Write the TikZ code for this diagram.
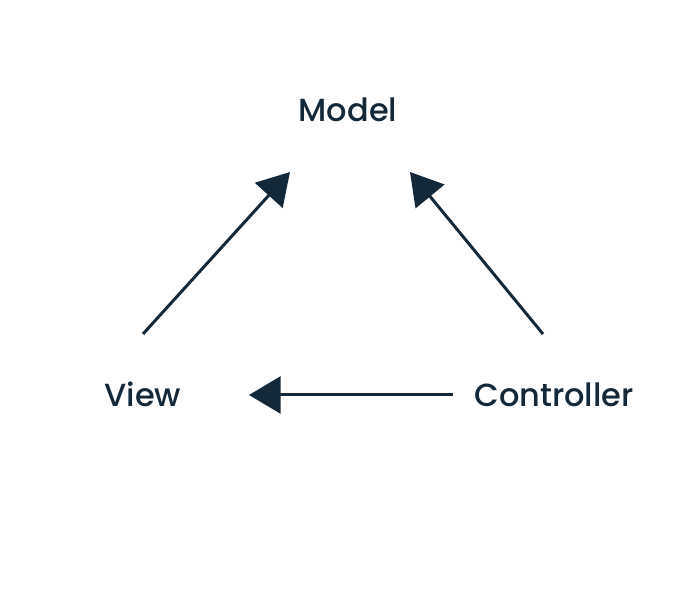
\documentclass[tikz,border=0pt]{standalone}
\usepackage{fontspec}
\setmainfont{Poppins Medium}
\usetikzlibrary{arrows.meta, positioning}
\definecolor{navy}{HTML}{13293A}

\begin{document}
\begin{tikzpicture}[
    every node/.style={text=navy, font=\fontsize{9.1}{11}\selectfont, anchor=base},
    every edge/.style={draw=navy, line width=0.85pt, -{Triangle[length=9pt, width=10.5pt]}}
]
\useasboundingbox (0,0) rectangle (7,6);

% Labels
\node (model) at (3.48,4.78) {Model};
\node (view) at (1.43,1.93) {View};
\node (ctrl) at (5.54,1.93) {Controller};

% Arrow end points
\coordinate (viewtop) at (1.43,2.66);
\coordinate (ctrltop) at (5.43,2.66);
\coordinate (modelleft) at (2.90,4.28);
\coordinate (modelright) at (4.10,4.28);
\coordinate (viewright) at (2.49,2.05);
\coordinate (ctrlleft) at (4.53,2.05);

% Edges
\path (viewtop) edge (modelleft);
\path (ctrltop) edge (modelright);
\path (ctrlleft) edge (viewright);

\end{tikzpicture}
\end{document}
